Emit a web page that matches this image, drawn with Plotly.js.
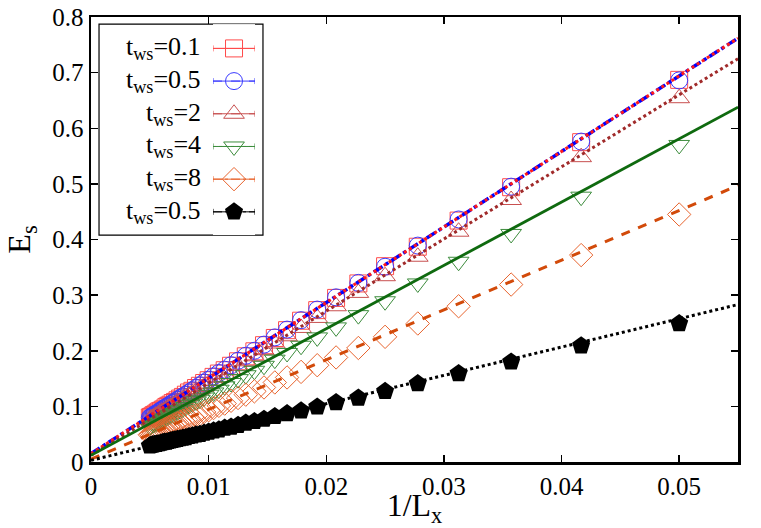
<!DOCTYPE html>
<html>
<head>
<meta charset="utf-8">
<script src="https://cdn.plot.ly/plotly-3.0.1.min.js"></script>
<style>
  html, body { margin: 0; padding: 0; background: #fff; }
  #chart { width: 761px; height: 528px; }
</style>
</head>
<body>
<div id="chart"></div>
<script>
// System sizes L_x; the horizontal coordinate is 1/L_x
const sizesLx = [20, 24, 28, 32, 36, 40, 44, 48, 52, 56, 60, 64, 68, 72, 76, 80, 84, 88, 92, 96,
  100, 104, 108, 112, 116, 120, 124, 128, 132, 136, 140, 144, 148, 152, 156, 160, 164, 168, 172,
  176, 180, 184, 188, 192, 196, 200];

// E_s for each waiting time, ordered like sizesLx
const es_tws01 = [0.687, 0.575, 0.494, 0.434, 0.387, 0.352, 0.321, 0.295, 0.273, 0.254, 0.237,
  0.223, 0.210, 0.199, 0.190, 0.181, 0.173, 0.165, 0.159, 0.153, 0.147, 0.142, 0.137, 0.133,
  0.128, 0.125, 0.121, 0.117, 0.114, 0.111, 0.108, 0.106, 0.103, 0.101, 0.099, 0.096, 0.094,
  0.092, 0.091, 0.089, 0.087, 0.085, 0.084, 0.082, 0.081, 0.080];
const es_tws05 = [0.686, 0.576, 0.495, 0.436, 0.389, 0.351, 0.322, 0.296, 0.274, 0.255, 0.238,
  0.224, 0.211, 0.200, 0.191, 0.182, 0.174, 0.166, 0.160, 0.154, 0.148, 0.143, 0.138, 0.133,
  0.129, 0.125, 0.121, 0.118, 0.115, 0.112, 0.109, 0.106, 0.104, 0.101, 0.099, 0.097, 0.095,
  0.093, 0.091, 0.089, 0.087, 0.086, 0.084, 0.083, 0.081, 0.080];
const es_tws2 = [0.654, 0.548, 0.471, 0.414, 0.369, 0.334, 0.304, 0.280, 0.259, 0.241, 0.226,
  0.213, 0.201, 0.190, 0.181, 0.173, 0.165, 0.158, 0.152, 0.146, 0.141, 0.136, 0.131, 0.127,
  0.123, 0.119, 0.116, 0.112, 0.109, 0.107, 0.104, 0.101, 0.099, 0.097, 0.094, 0.092, 0.090,
  0.089, 0.087, 0.085, 0.083, 0.082, 0.080, 0.079, 0.078, 0.076];
const es_tws4 = [0.570, 0.477, 0.410, 0.360, 0.321, 0.289, 0.264, 0.242, 0.224, 0.209, 0.196,
  0.184, 0.173, 0.164, 0.156, 0.149, 0.142, 0.136, 0.130, 0.125, 0.121, 0.116, 0.112, 0.109,
  0.105, 0.102, 0.099, 0.096, 0.093, 0.091, 0.088, 0.086, 0.084, 0.082, 0.080, 0.078, 0.077,
  0.075, 0.073, 0.072, 0.071, 0.069, 0.068, 0.067, 0.065, 0.064];
const es_tws8 = [0.445, 0.372, 0.319, 0.280, 0.249, 0.225, 0.205, 0.188, 0.174, 0.162, 0.152,
  0.143, 0.134, 0.127, 0.121, 0.115, 0.110, 0.105, 0.101, 0.097, 0.093, 0.090, 0.086, 0.084,
  0.081, 0.078, 0.076, 0.074, 0.072, 0.070, 0.068, 0.066, 0.064, 0.063, 0.061, 0.060, 0.059,
  0.057, 0.056, 0.055, 0.054, 0.053, 0.052, 0.051, 0.050, 0.049];
const es_tws05b = [0.249, 0.209, 0.180, 0.159, 0.141, 0.127, 0.115, 0.107, 0.099, 0.092, 0.087,
  0.082, 0.077, 0.073, 0.070, 0.066, 0.063, 0.061, 0.058, 0.056, 0.054, 0.052, 0.050, 0.049,
  0.047, 0.046, 0.044, 0.043, 0.042, 0.041, 0.040, 0.039, 0.038, 0.037, 0.036, 0.036, 0.035,
  0.034, 0.033, 0.033, 0.032, 0.032, 0.031, 0.031, 0.030, 0.029];

// Linear fits, evaluated at the two ends of the 1/L_x range
const fitEndsX = [0, 0.055];
const fit_tws01 = [0.015, 0.762];
const fit_tws05 = [0.015, 0.762];
const fit_tws2 = [0.012, 0.725];
const fit_tws4 = [0.012, 0.638];
const fit_tws8 = [0.005, 0.497];
const fit_tws05b = [0.003, 0.283];

const seriesLabels = ['t<sub>ws</sub>=0.1', 't<sub>ws</sub>=0.5', 't<sub>ws</sub>=2',
  't<sub>ws</sub>=4', 't<sub>ws</sub>=8', 't<sub>ws</sub>=0.5'];

const invL = sizesLx.map(L => 1 / L);
const FONT = 'Liberation Serif, Times New Roman, Times, serif';

const series = [
  { y: es_tws01, fit: fit_tws01, symbol: 'square-open', size: 17, color: '#ff4a4a',
    fitColor: '#ff1a1a', fitDash: 'dot', fitWidth: 3, keyDash: 'solid' },
  { y: es_tws05, fit: fit_tws05, symbol: 'circle-open', size: 17, color: '#3a3aff',
    fitColor: '#0000ff', fitDash: 'dashdot', fitWidth: 3.5, keyDash: 'dash' },
  { y: es_tws2, fit: fit_tws2, symbol: 'triangle-up-open', size: 18, color: '#c85050',
    fitColor: '#a02a2a', fitDash: 'dot', fitWidth: 3, keyDash: 'dash' },
  { y: es_tws4, fit: fit_tws4, symbol: 'triangle-down-open', size: 18, color: '#3c8c3c',
    fitColor: '#0f6a0f', fitDash: 'solid', fitWidth: 2.8, keyDash: 'dot' },
  { y: es_tws8, fit: fit_tws8, symbol: 'diamond-open', size: 18, color: '#e8642e',
    fitColor: '#d24a0a', fitDash: 'dash', fitWidth: 3, keyDash: 'dashdot' },
  { y: es_tws05b, fit: fit_tws05b, symbol: 'pentagon', size: 19, color: '#000000',
    fitColor: '#000000', fitDash: 'dot', fitWidth: 3, keyDash: 'dashdot' }
];

const traces = [];
// data points
series.forEach(s => {
  traces.push({
    x: invL, y: s.y, mode: 'markers', type: 'scatter', showlegend: false,
    marker: { symbol: s.symbol, size: s.size, color: s.color,
      line: { color: s.color, width: s.symbol === 'pentagon' ? 0 : 1 } },
    hoverinfo: 'x+y'
  });
});
// fitted lines (blue drawn before red so the red dots sit on top)
[1, 0, 2, 3, 4, 5].forEach(i => {
  const s = series[i];
  traces.push({
    x: fitEndsX, y: s.fit, mode: 'lines', type: 'scatter', showlegend: false,
    line: { color: s.fitColor, width: s.fitWidth, dash: s.fitDash }, hoverinfo: 'skip'
  });
});

// key samples: a thin line with error caps and the symbol in the middle, one row per series
const annotations = [];
series.forEach((s, k) => {
  const row = k + 1;
  traces.push({
    x: [0, 1], y: [row, row], xaxis: 'x2', yaxis: 'y2', mode: 'lines', showlegend: false,
    line: { color: s.color, width: 1, dash: s.keyDash }, hoverinfo: 'skip'
  });
  traces.push({
    x: [0.5], y: [row], xaxis: 'x2', yaxis: 'y2', mode: 'markers', showlegend: false,
    marker: { symbol: s.symbol, size: s.size, color: s.color,
      line: { color: s.color, width: s.symbol === 'pentagon' ? 0 : 1 } },
    error_x: { type: 'data', array: [0.5], color: s.color, thickness: 1, width: 3 },
    hoverinfo: 'skip'
  });
  annotations.push({
    xref: 'paper', yref: 'y2', x: 0.1731, y: row, xanchor: 'right', yanchor: 'middle',
    text: seriesLabels[k], showarrow: false, font: { family: FONT, size: 26, color: '#000' }
  });
});

const layout = {
  width: 761, height: 528,
  margin: { l: 91, r: 23, t: 17, b: 66 },
  paper_bgcolor: '#fff', plot_bgcolor: '#fff',
  font: { family: FONT, color: '#000' },
  showlegend: false,
  xaxis: {
    range: [0, 0.055], dtick: 0.01, tick0: 0,
    ticks: 'inside', ticklen: 7, tickwidth: 1.5, tickcolor: '#000',
    showline: true, linewidth: 2.5, linecolor: '#000', mirror: 'allticks',
    showgrid: false, zeroline: false, automargin: false,
    tickfont: { family: FONT, size: 25, color: '#000' },
    title: { text: '1/L<sub>x</sub>', font: { family: FONT, size: 32, color: '#000' }, standoff: 1 }
  },
  yaxis: {
    range: [0, 0.8], dtick: 0.1, tick0: 0,
    ticks: 'inside', ticklen: 7, tickwidth: 1.5, tickcolor: '#000',
    showline: true, linewidth: 2.5, linecolor: '#000', mirror: 'allticks',
    showgrid: false, zeroline: false, automargin: false,
    tickfont: { family: FONT, size: 25, color: '#000' },
    title: { text: 'E<sub>s</sub>', font: { family: FONT, size: 32, color: '#000' }, standoff: 12 }
  },
  xaxis2: { domain: [0.1886, 0.2535], range: [0, 1], anchor: 'y2', visible: false, fixedrange: true },
  yaxis2: { domain: [0.510, 0.984], range: [6.71, 0.257], anchor: 'x2', visible: false, fixedrange: true },
  shapes: [{
    type: 'rect', xref: 'paper', yref: 'paper', x0: 0.0124, x1: 0.2658, y0: 0.510, y1: 0.984,
    line: { color: '#000', width: 1.2 }, fillcolor: 'rgba(0,0,0,0)', layer: 'below'
  }],
  annotations: annotations
};

Plotly.newPlot('chart', traces, layout, { displayModeBar: false, staticPlot: true });
</script>
</body>
</html>
